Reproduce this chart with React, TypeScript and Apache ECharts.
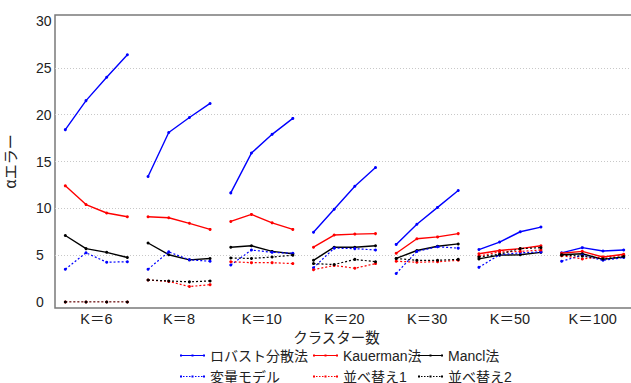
import React, { useEffect, useRef } from 'react';
import * as echarts from 'echarts';

const groups = ['K＝6', 'K＝8', 'K＝10', 'K＝20', 'K＝30', 'K＝50', 'K＝100'];
const yTicks = [0, 5, 10, 15, 20, 25, 30];

const robust = [18.4, 21.5, 24.0, 26.4, 13.4, 18.1, 19.7, 21.2, 11.65, 15.9, 17.9, 19.6, 7.45, 9.9, 12.35, 14.35, 6.15, 8.3, 10.1, 11.9, 5.6, 6.4, 7.5, 8.0, 5.25, 5.8, 5.45, 5.55];
const kauerman = [12.4, 10.4, 9.5, 9.1, 9.1, 9.0, 8.4, 7.75, 8.6, 9.35, 8.45, 7.75, 5.85, 7.15, 7.25, 7.3, 5.2, 6.75, 6.95, 7.3, 5.15, 5.5, 5.7, 6.0, 5.2, 5.4, 4.8, 5.1];
const mancl = [7.1, 5.7, 5.3, 4.75, 6.3, 5.05, 4.5, 4.65, 5.85, 6.0, 5.4, 5.15, 4.45, 5.85, 5.85, 6.0, 4.65, 5.5, 5.95, 6.2, 4.6, 5.0, 5.05, 5.3, 5.05, 5.15, 4.55, 4.8];
const randomEff = [3.5, 5.25, 4.25, 4.3, 3.5, 5.35, 4.5, 4.35, 3.95, 5.55, 5.3, 5.2, 3.65, 5.75, 5.7, 5.55, 3.05, 5.4, 5.9, 5.75, 3.7, 5.05, 5.25, 5.35, 4.35, 5.0, 4.45, 4.75];
const perm1 = [0, 0, 0, 0, 2.35, 2.2, 1.65, 1.85, 4.3, 4.2, 4.2, 4.1, 3.45, 3.9, 3.6, 4.1, 4.35, 4.25, 4.3, 4.45, 4.9, 5.35, 5.4, 5.55, 4.95, 4.6, 4.8, 5.0];
const perm2 = [0, 0, 0, 0, 2.35, 2.25, 2.15, 2.25, 4.7, 4.65, 4.8, 5.0, 4.1, 4.0, 4.55, 4.3, 4.65, 4.45, 4.45, 4.55, 4.8, 5.1, 5.7, 5.8, 5.0, 4.9, 4.6, 4.85];

const seriesNames = ['ロバスト分散法', 'Kauerman法', 'Mancl法', '変量モデル', '並べ替え1', '並べ替え2'];
const seriesValues = [robust, kauerman, mancl, randomEff, perm1, perm2];
const seriesColors = ['#0000ff', '#ff0000', '#000000', '#0000ff', '#ff0000', '#000000'];
const seriesDotted = [false, false, false, true, true, true];

const PER_GROUP = 4;

const ICON_SOLID = 'path://M0,1.5H25V2.5H0Z M0,1H2V3H0Z M11.5,1H13.5V3H11.5Z M23,1H25V3H23Z';
const ICON_DOTTED =
  'path://M0,1.5h1.5v1h-1.5Z M3,1.5h1.5v1h-1.5Z M6,1.5h1.5v1h-1.5Z M9,1.5h1.5v1h-1.5Z M15,1.5h1.5v1h-1.5Z M18,1.5h1.5v1h-1.5Z M21,1.5h1.5v1h-1.5Z M0,1H2V3H0Z M11.5,1H13.5V3H11.5Z M23,1H25V3H23Z';

function toData(vals: number[]) {
  const out: any[] = [];
  vals.forEach((v, i) => {
    if (i > 0 && i % PER_GROUP === 0) out.push([i - 0.5, '-']);
    out.push([i, v]);
  });
  return out;
}

export default function App() {
  const ref = useRef<HTMLDivElement>(null);
  useEffect(() => {
    document.body.style.margin = '0';
    const chart = echarts.init(ref.current!, null, { renderer: 'svg' });
    const nPts = groups.length * PER_GROUP;
    const legendPos = [
      [180, 348], [313, 348], [418, 348],
      [180, 369], [313, 369], [418, 369],
    ];
    const option: any = {
      animation: false,
      backgroundColor: '#ffffff',
      grid: { left: 55, top: 21, width: 579, height: 281, containLabel: false, outerBoundsMode: 'none' },
      xAxis: [
        { type: 'value', min: -0.5, max: nPts - 0.5, show: false },
        {
          type: 'category',
          data: groups,
          position: 'bottom',
          boundaryGap: true,
          axisLine: { show: false },
          axisTick: { show: false },
          splitLine: { show: false },
          axisLabel: {
            margin: 9,
            fontSize: 14.5,
            lineHeight: 15,
            color: '#222',
            fontFamily: "'Liberation Sans', 'Noto Sans CJK JP', sans-serif",
          },
        },
      ],
      yAxis: {
        type: 'value',
        min: yTicks[0],
        max: yTicks[yTicks.length - 1],
        interval: 5,
        name: 'αエラー',
        nameLocation: 'middle',
        nameRotate: 90,
        nameGap: 38,
        nameTextStyle: { fontSize: 15, color: '#222', fontFamily: "'Noto Sans CJK JP', sans-serif" },
        axisLine: { show: false },
        axisTick: { show: false },
        axisLabel: {
          align: 'left',
          margin: 19,
          fontSize: 14,
          color: '#222',
          fontFamily: "'Liberation Sans', Arial, sans-serif",
        },
        splitLine: {
          show: true,
          showMinLine: false,
          showMaxLine: false,
          lineStyle: { type: [1, 2], color: '#c8c8c8', width: 1 },
        },
      },
      legend: seriesNames.map((name, i) => ({
        data: [{ name, icon: seriesDotted[i] ? ICON_DOTTED : ICON_SOLID }],
        left: legendPos[i][0],
        top: legendPos[i][1],
        padding: 0,
        itemWidth: 25,
        itemHeight: 4,
        selectedMode: false,
        textStyle: {
          fontSize: 14,
          lineHeight: 15,
          color: '#222',
          fontFamily: "'Liberation Sans', 'Noto Sans CJK JP', sans-serif",
        },
      })),
      graphic: [
        {
          type: 'rect',
          shape: { x: 55, y: 15, width: 600, height: 293 },
          style: { fill: 'none', stroke: '#7a7a7a', lineWidth: 1.5 },
          silent: true,
        },
        {
          type: 'text',
          x: 336.5,
          y: 336,
          style: {
            text: 'クラスター数',
            fontSize: 14.5,
            lineHeight: 15,
            fill: '#222',
            fontFamily: "'Noto Sans CJK JP', sans-serif",
            align: 'center',
            verticalAlign: 'middle',
          },
        },
      ],
      series: seriesNames.map((name, i) => ({
        name,
        type: 'line',
        xAxisIndex: 0,
        yAxisIndex: 0,
        data: toData(seriesValues[i]),
        connectNulls: false,
        symbol: 'circle',
        symbolSize: 3,
        showSymbol: true,
        color: seriesColors[i],
        itemStyle: { color: seriesColors[i] },
        lineStyle: {
          color: seriesColors[i],
          width: seriesDotted[i] ? 1.2 : 1.4,
          type: seriesDotted[i] ? [2, 2] : 'solid',
        },
        z: 2 + i,
      })),
    };
    chart.setOption(option);
    return () => chart.dispose();
  }, []);
  return <div ref={ref} style={{ width: 631, height: 383 }} />;
}
